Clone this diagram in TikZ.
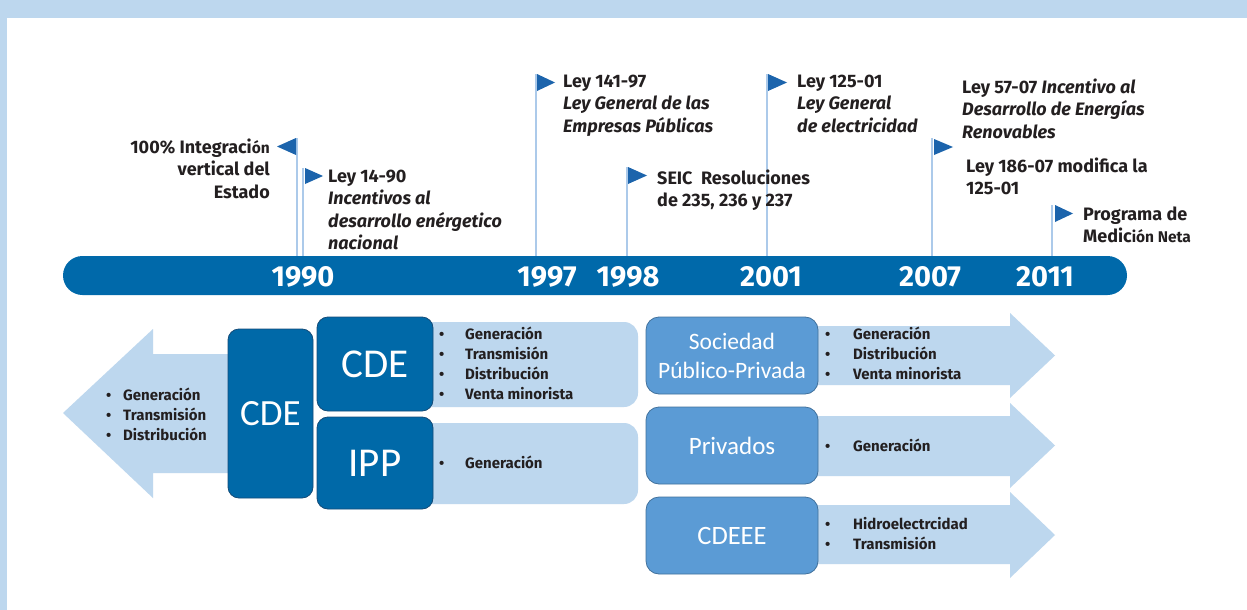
\documentclass[tikz,border=0pt]{standalone}
\usepackage{fontspec}
\setmainfont{Fira Sans}
\newfontfamily\boxfont{Carlito}
\definecolor{pageblue}{RGB}{189,215,238}
\definecolor{barblue}{RGB}{0,105,170}
\definecolor{flagblue}{RGB}{28,100,172}
\definecolor{poleblue}{RGB}{172,202,234}
\definecolor{darkblue}{RGB}{0,105,168}
\definecolor{darkedge}{RGB}{20,75,120}
\definecolor{midblue}{RGB}{91,155,213}
\definecolor{midedge}{RGB}{65,113,156}
\definecolor{lightblue}{RGB}{189,215,238}
\definecolor{ink}{RGB}{35,31,32}

\newcommand{\bl}[1]{\makebox[#1][l]{•}}
\newcommand{\smallpart}[1]{{\fontsize{15.5}{22.5}\selectfont #1}}

\begin{document}
\begin{tikzpicture}[x=1pt,y=-1pt,
  pole/.style={draw=poleblue, line width=1.3pt},
  flag/.style={fill=flagblue},
  label/.style={font=\bfseries\fontsize{18}{22.5}\selectfont, text=ink, inner sep=0pt, anchor=base west},
  year/.style={font=\bfseries\fontsize{29}{32}\selectfont, text=white, inner sep=0pt, anchor=base},
  bullets/.style={font=\bfseries\fontsize{15}{20}\selectfont, text=ink, inner sep=0pt, anchor=base west},
  darkbox/.style={draw=darkedge, fill=darkblue, line width=0.8pt, rounded corners=11pt,
    text=white, font=\boxfont\fontsize{37}{40}\selectfont, inner sep=0pt},
  midbox/.style={draw=midedge, fill=midblue, line width=0.8pt, rounded corners=13pt,
    text=white, font=\boxfont\fontsize{25}{29}\selectfont, align=center, inner sep=0pt,
    minimum width=172pt, minimum height=77pt},
  lightpanel/.style={fill=lightblue, rounded corners=14pt},
  arrowfill/.style={fill=lightblue}
]
\useasboundingbox (0,0) rectangle (1247,610);
% page frame
\fill[pageblue] (0,0) rectangle (1247,610);
\fill[white] (7,18) rectangle (1247,610);

% ---------- timeline poles and flags ----------
\draw[pole] (297,138) -- (297,256);
\fill[flag] (296,138) -- (296,155) -- (277,146.5) -- cycle;
\draw[pole] (303,168) -- (303,256);
\fill[flag] (305,168) -- (305,184) -- (323,176) -- cycle;
\draw[pole] (536,74) -- (536,256);
\fill[flag] (537,74) -- (537,91) -- (555,82.5) -- cycle;
\draw[pole] (627,167) -- (627,256);
\fill[flag] (628,167) -- (628,184) -- (647,175.5) -- cycle;
\draw[pole] (767,74) -- (767,256);
\fill[flag] (768,74) -- (768,91) -- (787,82.5) -- cycle;
\draw[pole] (932,138) -- (932,256);
\fill[flag] (934,139) -- (934,155) -- (953,147) -- cycle;
\draw[pole] (1052,205) -- (1052,256);
\fill[flag] (1055,205) -- (1055,222) -- (1073,213.5) -- cycle;

% ---------- timeline bar ----------
\fill[barblue, rounded corners=19.5pt] (63,256) rectangle (1127,295);
\node[year] (y1990) at (303,286) {1990};
\node[year] (y1997) at (547,286) {1997};
\node[year] (y1998) at (628,286) {1998};
\node[year] (y2001) at (771,286) {2001};
\node[year] (y2007) at (930,286) {2007};
\node[year] (y2011) at (1045,286) {2011};

% ---------- event labels ----------
\node[label, anchor=base east] (e1990a) at (270,153)
  {\begin{tabular}[t]{@{}r@{}}100\% Integraci\smallpart{ón}\\vertical del\\Estado\end{tabular}};
\node[label] (e1990b) at (328,182)
  {\begin{tabular}[t]{@{}l@{}}Ley 14-90\\\itshape Incentivos al\\\itshape desarrollo enérgetico\\\itshape nacional\end{tabular}};
\node[label] (e1997) at (563,87)
  {\begin{tabular}[t]{@{}l@{}}Ley 141-97\\\itshape Ley General de las\\\itshape Empresas Públicas\end{tabular}};
\node[label] (e1998) at (657,184)
  {\begin{tabular}[t]{@{}l@{}}SEIC\ \ Resoluciones\\de 235, 236 y 237\end{tabular}};
\node[label] (e2001) at (797,87)
  {\begin{tabular}[t]{@{}l@{}}Ley 125-01\\\itshape Ley General\\\itshape de electricidad\end{tabular}};
\node[label] (e2007a) at (962,93)
  {\begin{tabular}[t]{@{}l@{}}Ley 57-07 \textit{Incentivo al}\\\itshape Desarrollo de Energías\\\itshape Renovables\end{tabular}};
\node[label] (e2007b) at (966,172)
  {\begin{tabular}[t]{@{}l@{}}Ley 186-07 modifica la\\125-01\end{tabular}};
\node[label] (e2011) at (1083,220)
  {\begin{tabular}[t]{@{}l@{}}Programa de\\Medic\smallpart{ión Neta}\end{tabular}};

% ---------- 1990: vertical integration ----------
\fill[arrowfill] (63,413) -- (153,329) -- (153,354) -- (245,354) -- (245,473) -- (153,473) -- (153,498) -- cycle;
\node[bullets] (list1990) at (106,400)
  {\begin{tabular}[t]{@{}l@{}}\bl{17pt}Generación\\\bl{17pt}Transmisión\\\bl{17pt}Distribución\end{tabular}};
\node[darkbox, minimum width=85pt, minimum height=169pt] (cdeA) at (270.5,413.5) {CDE};

% ---------- 1997: CDE and IPP ----------
\fill[lightpanel] (400,322) rectangle (638,407);
\fill[lightpanel] (400,423) rectangle (638,504);
\node[darkbox, minimum width=116pt, minimum height=94pt, font=\boxfont\fontsize{41}{44}\selectfont] (cdeB) at (375,364) {CDE};
\node[darkbox, minimum width=116pt, minimum height=92pt, font=\boxfont\fontsize{41}{44}\selectfont] (ipp) at (375,463) {IPP};
\node[bullets] (listCDE) at (439,339)
  {\begin{tabular}[t]{@{}l@{}}\bl{26pt}Generación\\\bl{26pt}Transmisión\\\bl{26pt}Distribución\\\bl{26pt}Venta minorista\end{tabular}};
\node[bullets] (listIPP) at (439,468) {\bl{26pt}Generación};

% ---------- present structure ----------
\fill[arrowfill] (800,326) -- (1010,326) -- (1010,313) -- (1055,355.5) -- (1010,398) -- (1010,385) -- (800,385) -- cycle;
\fill[arrowfill] (800,416) -- (1010,416) -- (1010,403) -- (1055,445.5) -- (1010,488) -- (1010,476) -- (800,476) -- cycle;
\fill[arrowfill] (800,505) -- (1010,505) -- (1010,492) -- (1055,535) -- (1010,578) -- (1010,564) -- (800,564) -- cycle;
\node[midbox, font=\boxfont\fontsize{23.5}{29}\selectfont] (spp) at (732,355.5) {Sociedad\\Público-Privada};
\node[midbox] (priv) at (732,445.5) {Privados};
\node[midbox, font=\boxfont\fontsize{26.5}{29}\selectfont] (cdeee) at (732,535.5) {CDEEE};
\node[bullets] (listSPP) at (825,339)
  {\begin{tabular}[t]{@{}l@{}}\bl{28pt}Generación\\\bl{28pt}Distribución\\\bl{28pt}Venta minorista\end{tabular}};
\node[bullets] (listPriv) at (825,451) {\bl{28pt}Generación};
\node[bullets] (listCDEEE) at (825,529)
  {\begin{tabular}[t]{@{}l@{}}\bl{28pt}Hidroelectrcidad\\\bl{28pt}Transmisión\end{tabular}};
\end{tikzpicture}
\end{document}
